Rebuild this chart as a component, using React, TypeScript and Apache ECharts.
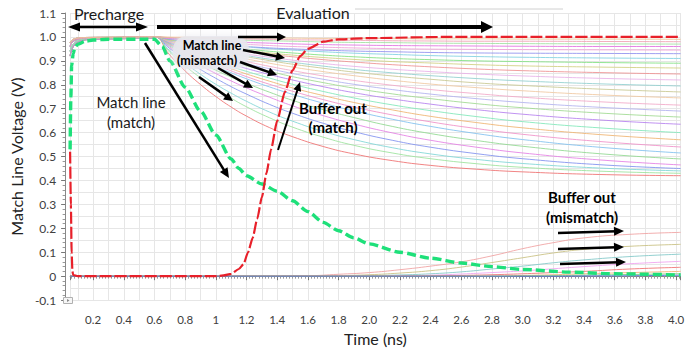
import React, { useEffect, useRef } from "react";
import * as echarts from "echarts";

// ---------- tick labels ----------
const xTickLabels = ["0.2", "0.4", "0.6", "0.8", "1", "1.2", "1.4", "1.6", "1.8", "2.0", "2.2", "2.4", "2.6", "2.8", "3.0", "3.2", "3.4", "3.6", "3.8", "4.0"];
const yTickLabels = ["-0.1", "0", "0.1", "0.2", "0.3", "0.4", "0.5", "0.6", "0.7", "0.8", "0.9", "1.0", "1.1"];

// ---------- match line (mismatch) family ----------
const prechargeTimes = [0.05, 0.06, 0.08, 0.1, 0.13, 0.2, 0.4, 0.58];
const prechargeProfiles = [
  [0.92, 0.945, 0.968, 0.978, 0.986, 0.99, 0.993, 0.995],
  [0.94, 0.96, 0.976, 0.984, 0.99, 0.993, 0.995, 0.997],
  [0.96, 0.975, 0.985, 0.99, 0.994, 0.996, 0.998, 0.999],
  [0.975, 0.985, 0.992, 0.995, 0.997, 0.998, 0.999, 1.0],
];
const evalTimes = [0.6, 0.7, 0.8, 0.9, 1.0, 1.1, 1.2, 1.35, 1.5, 1.7, 1.9, 2.15, 2.4, 2.7, 3.0, 3.5, 4.03];
const mismatchML = [
  [1, 0.924, 0.858, 0.801, 0.751, 0.707, 0.669, 0.621, 0.583, 0.542, 0.511, 0.483, 0.463, 0.447, 0.436, 0.425, 0.42],
  [1, 0.936, 0.879, 0.829, 0.784, 0.744, 0.708, 0.662, 0.623, 0.581, 0.547, 0.515, 0.491, 0.47, 0.455, 0.439, 0.43],
  [1, 0.942, 0.891, 0.844, 0.802, 0.765, 0.731, 0.686, 0.648, 0.605, 0.571, 0.537, 0.511, 0.488, 0.471, 0.452, 0.44],
  [1, 0.951, 0.906, 0.864, 0.827, 0.792, 0.761, 0.718, 0.681, 0.639, 0.604, 0.568, 0.539, 0.512, 0.491, 0.466, 0.45],
  [1, 0.957, 0.918, 0.881, 0.847, 0.816, 0.787, 0.748, 0.712, 0.671, 0.636, 0.599, 0.568, 0.539, 0.515, 0.486, 0.465],
  [1, 0.962, 0.926, 0.892, 0.861, 0.832, 0.806, 0.769, 0.735, 0.696, 0.663, 0.626, 0.596, 0.567, 0.543, 0.512, 0.49],
  [1, 0.966, 0.934, 0.904, 0.876, 0.85, 0.825, 0.791, 0.76, 0.723, 0.691, 0.656, 0.626, 0.596, 0.571, 0.539, 0.515],
  [1, 0.968, 0.938, 0.909, 0.883, 0.858, 0.834, 0.802, 0.773, 0.738, 0.707, 0.674, 0.645, 0.617, 0.593, 0.563, 0.54],
  [1, 0.97, 0.942, 0.915, 0.89, 0.867, 0.845, 0.815, 0.787, 0.755, 0.726, 0.695, 0.668, 0.642, 0.62, 0.592, 0.57],
  [1, 0.972, 0.946, 0.921, 0.898, 0.876, 0.856, 0.828, 0.802, 0.772, 0.745, 0.716, 0.692, 0.667, 0.646, 0.62, 0.6],
  [1, 0.974, 0.95, 0.928, 0.907, 0.887, 0.868, 0.843, 0.82, 0.792, 0.767, 0.741, 0.719, 0.696, 0.677, 0.653, 0.635],
  [1, 0.977, 0.955, 0.934, 0.915, 0.896, 0.879, 0.856, 0.834, 0.809, 0.786, 0.762, 0.742, 0.721, 0.704, 0.682, 0.665],
  [1, 0.978, 0.958, 0.939, 0.921, 0.904, 0.888, 0.867, 0.847, 0.823, 0.802, 0.78, 0.761, 0.742, 0.726, 0.706, 0.69],
  [1, 0.98, 0.961, 0.944, 0.927, 0.912, 0.897, 0.877, 0.859, 0.837, 0.818, 0.798, 0.78, 0.763, 0.748, 0.729, 0.715],
  [1, 0.982, 0.965, 0.95, 0.935, 0.921, 0.908, 0.89, 0.874, 0.855, 0.838, 0.819, 0.803, 0.788, 0.775, 0.758, 0.745],
  [1, 0.984, 0.969, 0.955, 0.941, 0.929, 0.917, 0.901, 0.886, 0.869, 0.853, 0.837, 0.823, 0.808, 0.797, 0.782, 0.77],
  [1, 0.985, 0.97, 0.957, 0.944, 0.933, 0.922, 0.907, 0.894, 0.878, 0.864, 0.85, 0.838, 0.826, 0.816, 0.804, 0.795],
  [1, 0.986, 0.972, 0.96, 0.949, 0.938, 0.928, 0.915, 0.903, 0.889, 0.877, 0.865, 0.855, 0.845, 0.837, 0.827, 0.82],
  [1, 0.988, 0.976, 0.966, 0.956, 0.947, 0.938, 0.927, 0.917, 0.905, 0.895, 0.884, 0.875, 0.866, 0.859, 0.851, 0.845],
  [1, 0.988, 0.977, 0.968, 0.959, 0.95, 0.943, 0.933, 0.924, 0.914, 0.906, 0.897, 0.891, 0.884, 0.879, 0.874, 0.87],
  [1, 0.989, 0.979, 0.971, 0.963, 0.955, 0.949, 0.94, 0.933, 0.924, 0.917, 0.91, 0.905, 0.9, 0.897, 0.893, 0.89],
  [1, 0.991, 0.983, 0.976, 0.969, 0.963, 0.958, 0.951, 0.945, 0.938, 0.932, 0.927, 0.922, 0.918, 0.915, 0.912, 0.91],
  [1, 0.991, 0.983, 0.976, 0.97, 0.965, 0.96, 0.954, 0.95, 0.945, 0.941, 0.938, 0.935, 0.933, 0.932, 0.931, 0.93],
  [1, 0.993, 0.987, 0.981, 0.976, 0.972, 0.969, 0.964, 0.96, 0.957, 0.954, 0.951, 0.949, 0.948, 0.947, 0.946, 0.945],
  [1, 0.995, 0.99, 0.986, 0.983, 0.98, 0.977, 0.974, 0.971, 0.968, 0.966, 0.964, 0.963, 0.962, 0.961, 0.96, 0.96],
  [1, 0.997, 0.994, 0.992, 0.99, 0.988, 0.986, 0.984, 0.982, 0.979, 0.977, 0.976, 0.974, 0.973, 0.972, 0.971, 0.97],
  [1, 0.998, 0.997, 0.995, 0.994, 0.992, 0.991, 0.99, 0.988, 0.987, 0.986, 0.984, 0.983, 0.982, 0.982, 0.981, 0.98],
  [1, 0.999, 0.999, 0.998, 0.997, 0.997, 0.996, 0.996, 0.995, 0.994, 0.994, 0.993, 0.992, 0.992, 0.991, 0.991, 0.99],
];
const mismatchColors = [
  "#ef6f6f", "#9be39b", "#7fd6d6", "#7f8fef", "#e47fe4", "#8fd88f", "#7fbfef",
  "#f08fc8", "#efb36f", "#7fe8b8", "#b57fef", "#9fd98f", "#b0b0ef", "#f2a8c8",
  "#f0c8a0", "#c8c890", "#8fcfcf", "#e8b0e8", "#ef8f8f", "#d0d080", "#7fe07f",
  "#7fd0e0", "#8f8fef", "#f0a0d8", "#e070e0", "#a0e0a0", "#f0a0b0", "#f0c090",
];

// ---------- buffer out (mismatch) family ----------
const bufTimes = [0.05, 1.0, 1.6, 1.8, 2.0, 2.2, 2.4, 2.6, 2.8, 3.0, 3.2, 3.4, 3.7, 4.03];
const bufMismatch = [
  [0, 0, 0.002, 0.008, 0.015, 0.027, 0.042, 0.06, 0.085, 0.115, 0.14, 0.16, 0.175, 0.183],
  [0, 0, 0, 0.002, 0.006, 0.013, 0.023, 0.038, 0.057, 0.077, 0.097, 0.112, 0.125, 0.133],
  [0, 0, 0, 0, 0.002, 0.005, 0.01, 0.018, 0.03, 0.042, 0.056, 0.068, 0.082, 0.092],
  [0, 0, 0, 0, 0, 0.002, 0.004, 0.009, 0.015, 0.022, 0.031, 0.04, 0.052, 0.062],
  [0, 0, 0, 0, 0, 0, 0.001, 0.003, 0.006, 0.01, 0.015, 0.02, 0.03, 0.037],
  [0, 0, 0, 0, 0, 0, 0, 0, 0.001, 0.003, 0.006, 0.01, 0.015, 0.02],
  [0, 0, 0, 0, 0, 0, 0, 0, 0, 0.001, 0.002, 0.004, 0.007, 0.01],
  [0, 0, 0, 0, 0, 0, 0, 0, 0, 0, 0, 0.001, 0.002, 0.004],
];
const bufColors = ["#f0a0a0", "#c8c080", "#80c8c8", "#f0a0f0", "#f07070", "#f0b070", "#70d070", "#5060e0"];

// ---------- match line (match) ----------
const matchMLTimes = [0.05, 0.055, 0.06, 0.07, 0.08, 0.1, 0.15, 0.2, 0.3, 0.6, 0.65, 0.7, 0.8, 0.9, 1.0, 1.1, 1.15, 1.2, 1.3, 1.4, 1.5, 1.6, 1.7, 1.8, 1.9, 2.0, 2.2, 2.4, 2.6, 2.8, 3.0, 3.3, 3.6, 4.03];
const matchMLValues = [0.53, 0.75, 0.88, 0.93, 0.955, 0.97, 0.982, 0.987, 0.99, 0.99, 0.96, 0.9, 0.79, 0.69, 0.59, 0.49, 0.45, 0.42, 0.385, 0.355, 0.315, 0.27, 0.225, 0.19, 0.16, 0.135, 0.1, 0.075, 0.055, 0.04, 0.028, 0.017, 0.01, 0.005];

// ---------- buffer out (match) ----------
const bufMatchTimes = [0.05, 0.055, 0.06, 0.065, 0.07, 0.1, 1.0, 1.05, 1.1, 1.15, 1.18, 1.21, 1.24, 1.27, 1.3, 1.33, 1.36, 1.4, 1.45, 1.5, 1.55, 1.6, 1.7, 1.8, 2.0, 2.5, 3.0, 4.03];
const bufMatchValues = [0.52, 0.3, 0.1, 0.02, 0.005, 0, 0, 0.003, 0.01, 0.03, 0.05, 0.1, 0.16, 0.24, 0.33, 0.43, 0.53, 0.65, 0.77, 0.86, 0.92, 0.95, 0.98, 0.99, 0.995, 1.0, 1.0, 1.0];

const FONT = "Lato, 'DejaVu Sans', sans-serif";

function arrow(x1: number, y1: number, x2: number, y2: number, w: number, head: number, hw: number, both = false): any[] {
  const ang = Math.atan2(y2 - y1, x2 - x1);
  const c = Math.cos(ang), s = Math.sin(ang);
  const px = -s * hw, py = c * hw;
  const els: any[] = [];
  const ex = x2 - c * head * 0.7, ey = y2 - s * head * 0.7;
  const sx = both ? x1 + c * head * 0.7 : x1, sy = both ? y1 + s * head * 0.7 : y1;
  els.push({ type: "line", z: 100, shape: { x1: sx, y1: sy, x2: ex, y2: ey }, style: { stroke: "#000", lineWidth: w } });
  const bx = x2 - c * head, by = y2 - s * head;
  els.push({ type: "polygon", z: 100, shape: { points: [[x2, y2], [bx + px, by + py], [bx - px, by - py]] }, style: { fill: "#000" } });
  if (both) {
    const bx2 = x1 + c * head, by2 = y1 + s * head;
    els.push({ type: "polygon", z: 100, shape: { points: [[x1, y1], [bx2 + px, by2 + py], [bx2 - px, by2 - py]] }, style: { fill: "#000" } });
  }
  return els;
}

function label(text: string, x: number, y: number, size: number, bold = false): any {
  return {
    type: "text", z: 101, x, y,
    style: { text, fill: bold ? "#000" : "#1a1a1a", font: `${bold ? "bold " : ""}${size}px ${FONT}`, align: "center", verticalAlign: "middle" },
  };
}

export default function App() {
  const ref = useRef<HTMLDivElement>(null);
  useEffect(() => {
    document.body.style.margin = "0";
    if (!ref.current) return;
    const chart = echarts.init(ref.current, undefined, { renderer: "svg" });

    const series: any[] = [];
    mismatchML.forEach((vals, k) => {
      const pre = prechargeProfiles[k % prechargeProfiles.length];
      const data = [
        ...prechargeTimes.map((t, i) => [t, pre[i]]),
        ...evalTimes.map((t, i) => [t, vals[i]]),
      ];
      series.push({
        type: "line", data, showSymbol: false, smooth: 0.5, silent: true, z: 2,
        lineStyle: { width: 1, color: mismatchColors[k], opacity: 0.85 },
      });
    });
    bufMismatch.forEach((vals, k) => {
      series.push({
        type: "line", data: bufTimes.map((t, i) => [t, vals[i]]), showSymbol: false, smooth: 0.5, silent: true, z: 2,
        lineStyle: { width: 1, color: bufColors[k], opacity: 0.85 },
      });
    });
    series.push({
      type: "line", data: matchMLTimes.map((t, i) => [t, matchMLValues[i]]), showSymbol: false, smooth: 0.25, smoothMonotone: "x", silent: true, z: 3,
      lineStyle: { width: 3.4, color: "#1ee07a", type: [9, 4] },
    });
    series.push({
      type: "line", data: bufMatchTimes.map((t, i) => [t, bufMatchValues[i]]), showSymbol: false, smooth: 0.2, smoothMonotone: "x", silent: true, z: 4,
      lineStyle: { width: 2.2, color: "#e8202a", type: [12, 3] },
    });

    const xFmt = (v: number) => {
      const idx = Math.round(v / 0.2) - 1;
      if (idx < 0 || idx >= xTickLabels.length || Math.abs(v - (idx + 1) * 0.2) > 1e-6) return "";
      return xTickLabels[idx];
    };
    const yFmt = (v: number) => {
      const idx = Math.round((v + 0.1) / 0.1);
      if (idx < 0 || idx >= yTickLabels.length || Math.abs(v - (idx * 0.1 - 0.1)) > 1e-6) return "";
      return yTickLabels[idx];
    };

    const graphic: any[] = [
      { type: "line", z: 90, shape: { x1: 355, y1: 9, x2: 563, y2: 9 }, style: { stroke: "#d0d0d0", lineWidth: 1 } },
      { type: "rect", z: 100, shape: { x: 63.5, y: 297.5, width: 9, height: 6 }, style: { fill: "#f6f6f6", stroke: "#b0b0b0", lineWidth: 1 } },
      { type: "polygon", z: 101, shape: { points: [[67, 299], [67, 302], [69.5, 300.5]] }, style: { fill: "#888" } },
      // phase annotations
      label("Precharge", 109, 13, 16),
      label("Evaluation", 313, 12, 16),
      ...arrow(68, 27, 148, 27, 2.6, 12, 4.5, true),
      ...arrow(157, 27, 493, 27, 4, 12, 6),
      // match line (match)
      label("Match line", 131, 102, 15),
      label("(match)", 131, 122, 15),
      ...arrow(145, 43, 229, 178, 2.5, 10, 4.5),
      // match line (mismatch)
      { type: "rect", z: 99, shape: { x: 173, y: 36, width: 76, height: 33, r: 14 }, style: { fill: "rgba(232,232,237,0.85)", shadowBlur: 8, shadowColor: "rgba(232,232,237,0.95)" } },
      label("Match line", 212, 45, 12.5, true),
      label("(mismatch)", 207, 60, 12.5, true),
      ...arrow(238, 37, 286, 37, 2.5, 9, 4.5),
      ...arrow(243, 50, 285, 58, 2.5, 9, 4.5),
      ...arrow(240, 62, 277, 75, 2.5, 9, 4.5),
      ...arrow(218, 68, 253, 88, 2.5, 9, 4.5),
      ...arrow(199, 77, 233, 101, 2.5, 9, 4.5),
      // buffer out (match)
      label("Buffer out", 333, 108, 15, true),
      label("(match)", 333, 127, 15, true),
      ...arrow(278, 150, 300, 82, 2, 9, 4),
      // buffer out (mismatch)
      label("Buffer out", 582, 197, 15, true),
      label("(mismatch)", 582, 217, 15, true),
      ...arrow(558, 233, 624, 231, 2.5, 10, 4.5),
      ...arrow(558, 249, 624, 247, 2.5, 10, 4.5),
      ...arrow(560, 264, 626, 262, 2.5, 10, 4.5),
    ];

    chart.setOption({
      animation: false,
      backgroundColor: "#ffffff",
      textStyle: { fontFamily: FONT },
      grid: { left: 62, right: 0, top: 13, bottom: 48, containLabel: false },
      xAxis: [
        {
          type: "value", min: 0.05, max: 4.03, minInterval: 0.2, maxInterval: 0.2, offset: 4, position: "bottom",
          axisLine: { show: true, lineStyle: { color: "#888" } },
          axisTick: { show: true, length: 4, lineStyle: { color: "#777" } },
          minorTick: { show: true, splitNumber: 10, length: 2.5, lineStyle: { color: "#999" } },
          axisLabel: { formatter: xFmt, fontSize: 11.5, color: "#404040", margin: 9, fontFamily: FONT },
          splitLine: { show: true, lineStyle: { color: "#d6d6d6", width: 1 } },
          name: "Time (ns)", nameLocation: "middle", nameGap: 23,
          nameTextStyle: { fontSize: 16, color: "#222", fontFamily: FONT },
        },
        {
          type: "value", min: 0.05, max: 4.03, minInterval: 0.1, maxInterval: 0.1, position: "bottom",
          axisLine: { show: false }, axisTick: { show: false }, axisLabel: { show: false },
          splitLine: { show: true, lineStyle: { color: "#e6e6e6", width: 1 } },
        },
      ],
      yAxis: [
        {
          type: "value", min: -0.1, max: 1.1, interval: 0.1, offset: 5, position: "left",
          axisLine: { show: true, lineStyle: { color: "#888" } },
          axisTick: { show: true, length: 4, lineStyle: { color: "#777" } },
          minorTick: { show: true, splitNumber: 5, length: 2.5, lineStyle: { color: "#999" } },
          axisLabel: { formatter: yFmt, fontSize: 12, color: "#404040", margin: 9, fontFamily: FONT },
          splitLine: { show: true, lineStyle: { color: "#d6d6d6", width: 1 } },
          name: "Match Line Voltage (V)", nameLocation: "middle", nameGap: 31,
          nameTextStyle: { fontSize: 16, color: "#222", fontFamily: FONT },
        },
        {
          type: "value", min: -0.1, max: 1.1, interval: 0.05, position: "left",
          axisLine: { show: false }, axisTick: { show: false }, axisLabel: { show: false },
          splitLine: { show: true, lineStyle: { color: "#e6e6e6", width: 1 } },
        },
      ],
      series: series.map((s) => ({ ...s, xAxisIndex: 0, yAxisIndex: 0 })),
      graphic,
    });
    return () => chart.dispose();
  }, []);
  return <div ref={ref} style={{ width: 687, height: 351, overflow: "hidden" }} />;
}
